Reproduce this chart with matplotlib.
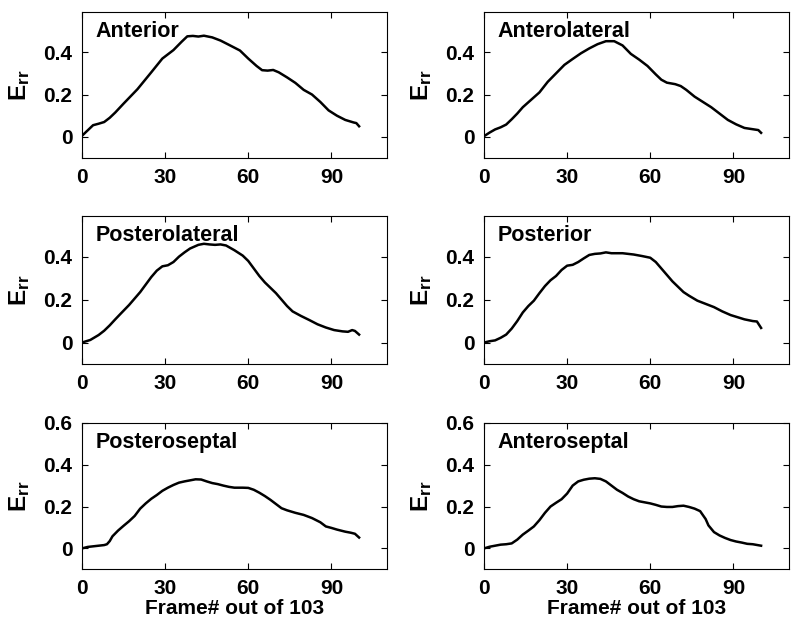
import matplotlib
matplotlib.use("Agg")
import matplotlib.pyplot as plt
import numpy as np

plt.rcParams['font.family'] = ['Liberation Sans', 'DejaVu Sans']
plt.rcParams['font.weight'] = 'bold'
plt.rcParams['mathtext.fontset'] = 'custom'
plt.rcParams['mathtext.bf'] = 'Liberation Sans:bold'
plt.rcParams['mathtext.rm'] = 'Liberation Sans:bold'

# segment curves, radial strain vs frame
ant_x = [0, 2, 4, 6, 8, 10, 12, 15, 20, 25, 29, 33, 36, 38, 40, 42, 44, 47, 50, 53, 57,
         60, 63, 65, 67, 69, 71, 74, 77, 80, 83, 86, 89, 92, 95, 98, 99, 100]
ant_y = [0.005, 0.03, 0.055, 0.062, 0.07, 0.09, 0.115, 0.157, 0.225, 0.305, 0.37, 0.41,
         0.45, 0.475, 0.477, 0.474, 0.478, 0.47, 0.455, 0.435, 0.408, 0.37, 0.335, 0.315,
         0.313, 0.316, 0.305, 0.281, 0.255, 0.222, 0.2, 0.165, 0.125, 0.1, 0.08, 0.068,
         0.065, 0.05]

antlat_x = [0, 2, 4, 6, 8, 10, 12, 14, 17, 20, 23, 26, 29, 32, 35, 38, 41, 44, 47, 50,
            53, 56, 59, 62, 64, 66, 69, 71, 73, 76, 79, 82, 85, 88, 91, 94, 97, 99, 100]
antlat_y = [0.003, 0.02, 0.035, 0.045, 0.058, 0.083, 0.11, 0.14, 0.175, 0.21, 0.26, 0.3,
            0.34, 0.368, 0.395, 0.418, 0.438, 0.452, 0.452, 0.432, 0.392, 0.365, 0.335,
            0.295, 0.27, 0.256, 0.249, 0.24, 0.222, 0.19, 0.165, 0.14, 0.11, 0.08, 0.059,
            0.042, 0.036, 0.032, 0.019]

postlat_x = [0, 3, 6, 8, 10, 12, 14, 17, 19, 21, 23, 25, 27, 29, 31, 33, 35, 37, 39, 42,
             44, 46, 48, 50, 52, 55, 58, 60, 62, 64, 66, 68, 70, 72, 74, 76, 79, 82, 85,
             88, 91, 94, 96, 97.5, 98.5, 100]
postlat_y = [0.0, 0.012, 0.035, 0.055, 0.08, 0.108, 0.135, 0.175, 0.205, 0.235, 0.27,
             0.305, 0.335, 0.355, 0.36, 0.375, 0.4, 0.42, 0.438, 0.455, 0.46, 0.457, 0.455,
             0.457, 0.452, 0.43, 0.405, 0.38, 0.345, 0.31, 0.28, 0.255, 0.23, 0.2, 0.17,
             0.145, 0.124, 0.105, 0.085, 0.07, 0.058, 0.052, 0.05, 0.058, 0.054, 0.037]

post_x = [0, 2, 4, 6, 8, 10, 12, 14, 16, 18, 20, 22, 24, 26, 28, 30, 32, 34, 36, 38, 40,
          42, 44, 46, 50, 54, 57, 60, 62, 64, 66, 68, 70, 72, 74, 77, 80, 83, 86, 89, 91,
          94, 97, 98.5, 100]
post_y = [0.0, 0.006, 0.01, 0.022, 0.037, 0.065, 0.1, 0.14, 0.17, 0.195, 0.23, 0.263,
          0.29, 0.31, 0.338, 0.358, 0.362, 0.375, 0.392, 0.408, 0.413, 0.415, 0.42, 0.416,
          0.416, 0.41, 0.403, 0.395, 0.375, 0.345, 0.315, 0.285, 0.26, 0.235, 0.218, 0.195,
          0.18, 0.165, 0.145, 0.128, 0.12, 0.108, 0.1, 0.098, 0.068]

postsep_x = [0, 2, 4, 6, 8, 9, 10, 11, 13, 15, 17, 19, 21, 23, 25, 27, 29, 31, 33, 35,
             37, 39, 41, 43, 45, 47, 49, 51, 53, 55, 58, 60, 62, 64, 66, 68, 70, 72, 74,
             77, 80, 83, 86, 88, 90, 92, 95, 97, 98.5, 100]
postsep_y = [0.0, 0.007, 0.01, 0.013, 0.016, 0.02, 0.035, 0.058, 0.085, 0.108, 0.13,
             0.155, 0.19, 0.215, 0.237, 0.255, 0.275, 0.29, 0.303, 0.314, 0.32, 0.325,
             0.33, 0.329, 0.32, 0.312, 0.307, 0.3, 0.294, 0.29, 0.29, 0.289, 0.28, 0.266,
             0.25, 0.232, 0.212, 0.192, 0.182, 0.17, 0.16, 0.145, 0.125, 0.105, 0.098,
             0.09, 0.08, 0.075, 0.07, 0.052]

antsep_x = [0, 2, 4, 6, 8, 10, 12, 14, 16, 18, 20, 22, 24, 26, 28, 30, 32, 34, 36, 38,
            40, 42, 44, 46, 48, 50, 52, 54, 56, 58, 60, 62, 64, 66, 68, 70, 72, 74, 76,
            78, 80, 81, 83, 85, 87, 89, 91, 93, 95, 97, 100]
antsep_y = [0.0, 0.008, 0.013, 0.018, 0.02, 0.024, 0.042, 0.066, 0.085, 0.105, 0.135,
            0.17, 0.2, 0.218, 0.235, 0.262, 0.3, 0.32, 0.328, 0.333, 0.335, 0.332, 0.32,
            0.3, 0.28, 0.265, 0.248, 0.235, 0.225, 0.22, 0.215, 0.208, 0.2, 0.198, 0.198,
            0.202, 0.204, 0.198, 0.19, 0.178, 0.14, 0.11, 0.078, 0.062, 0.05, 0.04, 0.033,
            0.028, 0.022, 0.02, 0.013]

names = ['Anterior', 'Anterolateral', 'Posterolateral', 'Posterior',
         'Posteroseptal', 'Anteroseptal']
xs = [ant_x, antlat_x, postlat_x, post_x, postsep_x, antsep_x]
ys = [ant_y, antlat_y, postlat_y, post_y, postsep_y, antsep_y]

fig = plt.figure(figsize=(8, 6.25), dpi=100)

lefts = [0.1025, 0.605]
bottoms = [0.7472, 0.4176, 0.089]
heights = [0.2336, 0.237, 0.2346]

for i in range(6):
    row, col = i // 2, i % 2
    ax = fig.add_axes([lefts[col], bottoms[row], 0.381, heights[row]])
    ax.plot(xs[i], ys[i], color='black', linewidth=1.8)
    ax.set_xlim(0, 110)
    if row == 2:
        ax.set_ylim(-0.1, 0.6)
        ax.set_yticks([0, 0.2, 0.4, 0.6])
        ax.set_yticklabels(['0', '0.2', '0.4', '0.6'])
        ax.set_xlabel('Frame# out of 103', fontsize=15, fontweight='bold', labelpad=1)
    else:
        ax.set_ylim(-0.1, 0.59)
        ax.set_yticks([0, 0.2, 0.4])
        ax.set_yticklabels(['0', '0.2', '0.4'])
    ax.set_xticks([0, 30, 60, 90])
    ax.tick_params(direction='in', top=True, right=True, length=4, labelsize=15, pad=7)
    for lab in ax.get_xticklabels() + ax.get_yticklabels():
        lab.set_fontweight('bold')
    ax.set_ylabel(r'$\mathbf{E_{rr}}$', fontsize=17.5, labelpad=8)
    ax.text(0.045, 0.94, names[i], transform=ax.transAxes, fontsize=15.5,
            fontweight='bold', va='top', ha='left')

plt.savefig('out.png', dpi=100)
